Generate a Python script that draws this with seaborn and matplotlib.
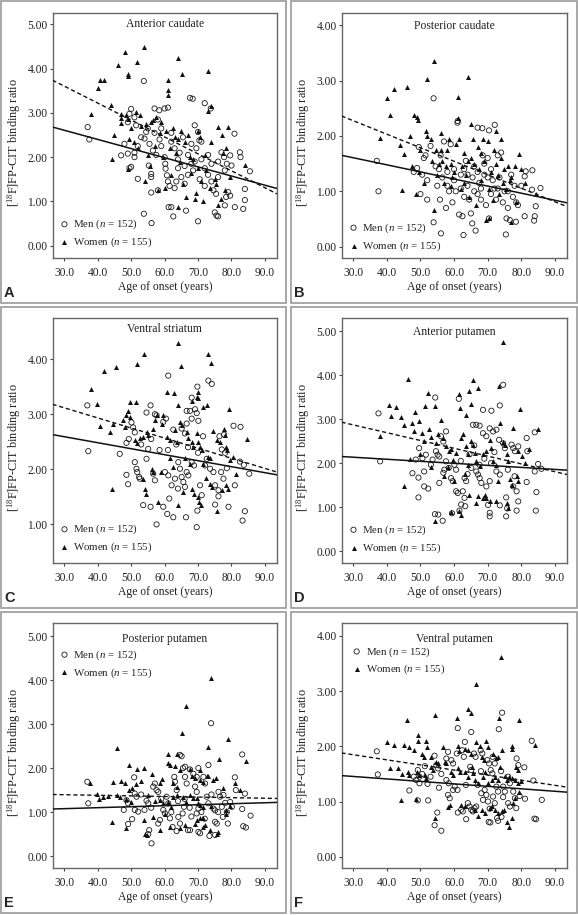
import matplotlib.pyplot as plt
import numpy as np
import pandas as pd
import seaborn as sns
from matplotlib.patches import Rectangle

# (age of onset, binding ratio) pairs
ant_caud_men = [
    (37.0, 2.68), (37.5, 2.40), (47.0, 2.04), (48.0, 2.30), (49.0, 2.79), (49.0, 2.08), (49.5, 1.75),
    (50.0, 3.09), (49.5, 2.98), (50.0, 1.78), (51.0, 2.90), (51.0, 2.10), (51.0, 2.00), (51.5, 2.72),
    (52.0, 1.51), (52.0, 2.25), (53.0, 2.45), (53.8, 3.72), (53.8, 0.72), (54.0, 2.42), (54.5, 2.57),
    (55.0, 2.65), (55.3, 1.81), (55.5, 2.30), (56.0, 1.62), (56.0, 1.55), (56.0, 1.20), (56.1, 0.51),
    (56.5, 2.15), (57.0, 3.10), (57.0, 2.55), (57.5, 2.05), (58.0, 1.25), (58.4, 3.06), (58.5, 2.40),
    (59.0, 2.25), (60.0, 3.10), (60.0, 2.00), (60.2, 1.85), (60.3, 1.74), (60.7, 1.59), (61.0, 3.12),
    (61.0, 1.45), (61.2, 0.87), (61.5, 1.35), (62.0, 0.87), (62.0, 2.35), (62.6, 0.66), (63.0, 1.30),
    (63.5, 1.45), (64.0, 1.75), (64.5, 2.10), (65.0, 1.55), (65.5, 2.45), (66.0, 1.40), (66.4, 0.79),
    (67.0, 2.05), (67.6, 3.34), (68.0, 1.85), (68.4, 3.32), (68.5, 1.70), (69.0, 2.72), (69.5, 2.20),
    (70.0, 2.57), (70.0, 0.55), (70.4, 2.38), (70.5, 1.50), (71.0, 1.95), (72.0, 3.22), (72.0, 1.75),
    (73.0, 1.60), (73.8, 3.10), (74.0, 1.45), (74.6, 1.25), (75.0, 0.75), (75.4, 1.17), (75.5, 0.68),
    (76.0, 0.66), (76.0, 1.55), (77.0, 2.11), (77.8, 2.00), (78.0, 0.91), (78.4, 1.10), (78.6, 1.85),
    (79.0, 1.21), (79.6, 1.13), (79.6, 2.04), (80.0, 1.81), (80.9, 2.53), (81.0, 0.87), (82.5, 2.11),
    (82.7, 2.00), (83.5, 0.83), (84.0, 1.28), (84.0, 1.03), (85.5, 1.68), (58.0, 2.85), (59.0, 2.65),
    (62.0, 2.55), (63.0, 2.20), (64.0, 1.95), (66.0, 1.80), (67.0, 1.60), (68.0, 2.30), (69.0, 1.90),
    (71.0, 2.35), (72.0, 1.35), (73.0, 2.05), (74.0, 1.85), (76.0, 1.90), (78.0, 1.70),
]
ant_caud_women = [
    (38.0, 2.98), (40.0, 3.56), (40.7, 3.74), (42.0, 3.74), (44.0, 3.19), (44.3, 1.96), (45.0, 2.49),
    (46.0, 4.08), (47.0, 2.98), (47.0, 2.89), (47.0, 2.78), (48.1, 4.37), (48.6, 2.95), (49.0, 1.73),
    (49.2, 3.87), (49.2, 3.83), (49.2, 2.87), (49.5, 2.40), (50.0, 2.65), (51.0, 2.35), (51.6, 3.02),
    (51.9, 4.15), (52.0, 2.20), (52.6, 2.95), (53.0, 2.70), (53.8, 4.49), (54.0, 1.47), (54.5, 2.75),
    (55.0, 2.05), (55.5, 1.80), (56.0, 2.80), (56.5, 2.83), (57.0, 2.25), (57.5, 2.90), (58.0, 1.25),
    (58.5, 2.55), (59.0, 2.80), (59.5, 2.00), (60.0, 1.30), (60.5, 2.60), (61.1, 3.74), (61.1, 3.51),
    (61.1, 3.41), (61.5, 2.20), (62.0, 1.60), (62.5, 2.65), (63.0, 2.45), (63.5, 2.10), (64.0, 2.40),
    (64.1, 4.25), (64.1, 0.87), (64.5, 1.90), (65.0, 2.60), (65.1, 3.89), (65.5, 1.40), (66.0, 2.35),
    (66.5, 1.10), (67.0, 2.50), (67.5, 2.00), (68.0, 1.65), (68.5, 1.95), (69.0, 1.05), (69.5, 1.20),
    (70.0, 2.60), (70.0, 1.75), (70.5, 2.45), (71.0, 1.45), (71.5, 1.00), (72.0, 2.05), (72.5, 1.70),
    (73.0, 3.95), (73.0, 3.05), (73.5, 1.30), (74.0, 3.15), (74.0, 2.35), (75.0, 1.50), (75.5, 1.40),
    (76.0, 0.92), (76.1, 2.68), (77.0, 1.05), (77.1, 2.49), (77.5, 2.10), (78.0, 1.25), (78.5, 2.20),
    (79.0, 2.68), (79.6, 1.55), (84.0, 1.83),
]

post_caud_men = [
    (37.0, 1.55), (37.5, 1.00), (48.0, 1.35), (49.0, 1.42), (49.5, 1.80), (50.0, 0.95), (50.5, 1.30),
    (51.0, 1.60), (51.5, 1.65), (52.0, 0.85), (52.0, 1.20), (53.0, 1.82), (53.9, 2.68), (53.9, 0.44),
    (54.5, 1.45), (55.0, 1.10), (55.8, 0.85), (56.0, 1.65), (56.1, 0.24), (56.5, 1.25), (57.0, 1.90),
    (57.6, 0.70), (58.0, 1.35), (58.5, 1.00), (59.0, 1.85), (59.5, 0.80), (60.0, 1.40), (60.5, 1.00),
    (61.0, 2.24), (61.1, 2.27), (61.5, 0.58), (62.0, 1.30), (62.5, 0.55), (62.8, 0.21), (63.0, 0.90),
    (63.5, 1.55), (64.0, 1.10), (64.5, 0.85), (65.0, 0.60), (65.4, 0.42), (65.5, 1.25), (66.0, 1.45),
    (66.4, 0.29), (67.0, 2.15), (67.0, 0.95), (67.5, 1.15), (68.0, 0.85), (68.4, 2.14), (68.5, 1.65),
    (69.0, 1.30), (69.5, 0.75), (70.0, 1.60), (70.4, 2.10), (70.4, 0.51), (71.0, 0.95), (71.5, 1.20),
    (72.1, 2.20), (72.5, 0.85), (73.0, 1.65), (73.0, 1.05), (74.0, 1.70), (74.5, 0.80), (75.0, 1.00),
    (75.4, 0.22), (75.6, 0.51), (76.0, 0.70), (76.6, 0.48), (77.0, 1.30), (77.5, 0.90), (78.4, 0.45),
    (78.5, 0.80), (79.0, 0.75), (80.0, 1.10), (81.0, 0.55), (81.0, 1.27), (81.3, 1.36), (83.2, 1.03),
    (83.3, 1.38), (83.8, 0.47), (84.0, 0.55), (84.3, 0.73), (85.7, 1.06), (55.5, 1.40), (58.0, 1.10),
    (60.0, 1.20), (62.0, 1.05), (63.0, 1.40), (64.0, 1.30), (66.0, 1.00), (67.0, 1.35), (68.0, 1.05),
    (69.0, 1.50), (70.0, 1.25), (71.0, 1.40), (72.0, 1.05), (73.5, 1.25), (76.0, 1.00), (78.0, 1.10),
]
post_caud_women = [
    (38.0, 1.97), (40.1, 2.68), (40.9, 2.38), (42.1, 2.84), (43.9, 1.84), (44.5, 1.03), (45.0, 1.67),
    (46.1, 2.88), (47.0, 2.00), (47.5, 1.45), (48.1, 2.38), (48.6, 0.95), (49.1, 2.35), (49.4, 2.29),
    (49.5, 1.35), (50.0, 1.75), (51.0, 1.15), (51.6, 2.09), (51.9, 3.03), (52.0, 2.00), (53.0, 1.94),
    (53.5, 1.55), (53.9, 3.36), (53.9, 0.67), (54.5, 1.75), (55.0, 1.30), (55.5, 1.50), (56.1, 2.06),
    (56.5, 1.55), (57.0, 1.15), (57.5, 1.45), (58.0, 1.75), (58.5, 1.95), (59.0, 1.50), (59.5, 1.25),
    (60.0, 1.35), (60.5, 1.85), (61.1, 2.71), (61.1, 2.32), (61.5, 1.95), (62.0, 1.05), (62.5, 1.45),
    (63.0, 1.70), (63.5, 1.30), (64.0, 3.06), (64.0, 1.55), (64.5, 0.90), (65.1, 2.21), (65.5, 1.95),
    (66.0, 1.50), (66.5, 0.75), (67.0, 1.80), (67.5, 1.40), (68.0, 1.20), (68.5, 1.95), (69.0, 1.55),
    (69.6, 0.48), (70.0, 1.90), (70.4, 0.51), (71.0, 1.35), (71.5, 0.85), (72.0, 1.75), (72.6, 2.09),
    (73.0, 1.30), (73.5, 0.95), (74.0, 1.60), (74.5, 1.15), (75.0, 1.40), (75.5, 1.05), (76.0, 1.45),
    (77.0, 0.45), (77.0, 1.25), (78.0, 1.45), (78.5, 0.80), (79.4, 1.67), (80.0, 1.40), (81.0, 1.15),
    (84.3, 0.95), (56.0, 1.75), (59.0, 1.10), (63.0, 1.15), (65.0, 1.60), (68.0, 1.70), (70.5, 1.05),
    (72.5, 1.50), (74.0, 1.95), (76.5, 1.20),
]

vent_stri_men = [
    (36.9, 3.16), (37.2, 2.33), (61.1, 3.70), (69.8, 3.50), (73.1, 3.61), (74.1, 3.55), (55.8, 3.16),
    (54.6, 3.03), (57.1, 3.00), (57.6, 2.98), (59.6, 2.86), (60.4, 2.92), (68.1, 3.30), (69.1, 3.09),
    (69.6, 3.02), (67.6, 3.06), (66.6, 3.06), (70.1, 2.88), (66.6, 2.83), (68.1, 2.92), (62.6, 2.72),
    (65.1, 2.74), (66.1, 2.65), (46.6, 2.28), (48.6, 2.48), (49.3, 2.55), (50.1, 2.85), (50.6, 2.76),
    (51.1, 2.67), (48.6, 1.90), (49.1, 1.73), (51.1, 2.13), (51.6, 2.01), (51.8, 1.95), (52.4, 1.86),
    (52.6, 1.83), (54.6, 2.19), (55.1, 2.37), (56.6, 1.92), (57.1, 1.80), (53.6, 1.35), (55.8, 1.32),
    (57.6, 1.00), (59.6, 1.32), (60.8, 1.19), (62.6, 1.13), (61.4, 1.47), (60.1, 1.95), (61.1, 1.89),
    (62.1, 1.71), (63.1, 1.83), (64.1, 2.13), (64.6, 2.01), (65.1, 1.86), (65.6, 1.77), (66.1, 1.68),
    (66.6, 1.95), (67.1, 1.89), (68.1, 2.13), (68.8, 2.07), (66.4, 1.13), (69.6, 0.95), (69.8, 1.25),
    (70.6, 1.71), (71.1, 1.53), (72.1, 2.07), (72.6, 2.19), (73.6, 2.01), (74.6, 1.95), (75.1, 1.71),
    (76.1, 1.62), (75.1, 1.36), (76.1, 1.51), (77.1, 2.36), (78.1, 2.30), (76.4, 2.60), (77.8, 2.63),
    (76.9, 1.95), (77.6, 1.83), (78.6, 2.02), (79.1, 1.32), (80.6, 2.79), (81.0, 1.71), (82.7, 2.77),
    (82.5, 2.14), (83.7, 2.08), (84.0, 1.24), (83.3, 1.07), (85.3, 1.92), (53.0, 2.45), (56.0, 2.55),
    (58.5, 2.35), (61.0, 2.35), (63.5, 2.45), (64.0, 1.65), (67.0, 2.40), (70.0, 2.30), (71.5, 2.60),
]
vent_stri_women = [
    (64.1, 4.30), (53.9, 4.09), (73.1, 4.09), (73.9, 3.92), (45.6, 3.86), (51.9, 3.91), (64.8, 3.88),
    (42.0, 3.78), (37.9, 3.45), (39.7, 3.19), (49.8, 3.22), (51.6, 3.22), (49.1, 3.05), (60.6, 3.40),
    (62.8, 3.38), (64.1, 3.16), (70.1, 3.40), (69.6, 3.32), (70.1, 3.29), (68.1, 3.24), (71.6, 3.13),
    (72.6, 3.16), (79.2, 3.10), (40.7, 2.78), (43.7, 2.68), (44.7, 2.83), (44.2, 1.64), (47.6, 2.89),
    (48.1, 2.77), (48.6, 2.99), (49.6, 2.95), (51.1, 2.53), (51.9, 2.47), (52.6, 2.56), (53.6, 2.59),
    (54.6, 2.68), (55.1, 2.62), (56.6, 2.74), (57.1, 2.89), (57.6, 2.99), (59.1, 2.83), (59.6, 2.98),
    (60.6, 2.59), (61.6, 2.53), (63.1, 2.71), (63.6, 2.50), (64.6, 2.86), (65.1, 2.80), (66.6, 2.68),
    (67.1, 2.56), (68.1, 2.50), (68.6, 2.41), (69.6, 2.65), (70.1, 2.50), (70.6, 2.41), (71.1, 2.35),
    (73.1, 2.23), (73.6, 2.20), (74.6, 2.70), (75.6, 2.53), (76.6, 2.50), (77.8, 2.74), (78.1, 2.62),
    (78.3, 2.41), (78.6, 2.35), (79.6, 2.17), (80.5, 2.23), (84.5, 2.55), (81.3, 1.92), (53.6, 1.82),
    (54.1, 1.64), (54.3, 1.55), (56.1, 2.01), (56.6, 1.95), (58.1, 1.41), (64.1, 1.35), (65.6, 1.59),
    (68.1, 1.65), (68.8, 1.56), (69.9, 1.50), (70.4, 1.41), (70.9, 1.35), (73.6, 1.74), (74.1, 1.68),
    (75.6, 1.25), (78.3, 1.71), (79.0, 1.65), (77.1, 1.62), (59.0, 1.95), (61.5, 2.20), (62.5, 2.05),
    (66.0, 2.20), (67.5, 2.10), (71.5, 2.10), (72.5, 1.85),
]

ant_put_men = [
    (37.5, 3.13), (38.0, 2.04), (54.4, 3.49), (61.4, 3.46), (74.6, 3.78), (73.6, 3.31), (68.6, 3.21),
    (71.1, 3.19), (65.6, 2.87), (66.6, 2.87), (67.6, 2.85), (68.6, 2.68), (69.6, 2.61), (70.6, 2.79),
    (71.6, 2.72), (72.6, 2.76), (73.4, 2.53), (74.6, 2.45), (75.1, 2.34), (77.1, 2.42), (77.6, 2.34),
    (78.1, 2.27), (79.1, 2.38), (81.6, 2.57), (81.8, 2.27), (84.0, 2.70), (85.0, 1.98), (86.0, 1.87),
    (84.0, 1.81), (81.6, 1.57), (84.5, 1.34), (84.3, 0.92), (78.6, 1.36), (77.6, 1.47), (79.1, 1.13),
    (78.6, 0.92), (75.5, 1.22), (75.8, 0.97), (75.5, 0.79), (73.6, 1.04), (70.6, 0.87), (70.6, 0.79),
    (70.1, 1.05), (72.6, 1.81), (73.6, 1.74), (69.6, 1.47), (70.6, 1.59), (67.6, 1.66), (68.1, 1.55),
    (66.6, 1.81), (67.1, 1.74), (64.6, 2.20), (65.1, 1.89), (63.1, 1.66), (63.6, 1.59), (62.6, 1.36),
    (63.1, 1.21), (62.1, 1.06), (63.3, 1.02), (61.6, 0.92), (59.4, 0.86), (56.6, 0.69), (55.3, 0.83),
    (54.3, 0.84), (55.6, 1.55), (56.8, 1.78), (57.6, 2.04), (58.4, 1.89), (59.1, 1.66), (59.6, 1.59),
    (60.6, 1.36), (61.1, 1.32), (60.1, 1.96), (60.6, 1.85), (57.6, 2.72), (56.1, 2.61), (56.8, 2.49),
    (54.6, 2.27), (55.1, 2.19), (55.6, 2.15), (53.6, 2.08), (53.1, 1.96), (51.6, 2.19), (50.6, 2.11),
    (49.6, 2.34), (48.6, 2.08), (47.6, 1.77), (49.4, 1.67), (51.1, 1.47), (52.3, 1.42), (49.4, 1.22),
    (51.1, 1.81), (57.1, 1.85), (67.6, 1.96), (62.0, 2.05), (64.0, 1.75), (66.0, 2.40), (69.0, 2.10),
    (71.0, 2.00), (72.0, 2.25), (76.0, 1.85), (78.0, 1.70),
]
ant_put_women = [
    (74.6, 4.76), (46.4, 3.91), (65.6, 3.88), (67.1, 3.71), (73.4, 3.75), (52.3, 3.59), (61.4, 3.56),
    (64.4, 3.64), (40.5, 3.32), (42.7, 3.27), (41.2, 3.07), (44.2, 3.04), (45.2, 2.86), (48.4, 3.16),
    (51.4, 3.29), (54.4, 3.29), (56.0, 2.98), (65.1, 3.35), (61.8, 3.25), (63.6, 3.10), (79.5, 3.22),
    (37.9, 2.62), (45.0, 1.47), (54.4, 0.68), (47.6, 2.91), (48.1, 2.72), (49.6, 2.95), (50.6, 2.69),
    (51.1, 2.50), (52.6, 2.78), (53.1, 2.59), (54.6, 2.46), (55.1, 2.65), (56.6, 2.57), (57.6, 2.38),
    (58.4, 2.27), (59.1, 2.31), (59.6, 2.08), (60.6, 2.23), (62.1, 2.57), (62.6, 2.65), (63.6, 2.38),
    (64.1, 2.20), (65.1, 2.50), (65.6, 2.42), (66.1, 2.23), (66.6, 2.04), (67.6, 1.93), (68.6, 2.20),
    (69.6, 2.27), (70.6, 2.53), (71.1, 2.34), (71.6, 2.04), (72.6, 1.96), (73.6, 2.91), (74.6, 2.49),
    (75.1, 2.42), (75.6, 2.20), (76.1, 2.04), (77.6, 2.80), (79.1, 2.27), (80.1, 2.15), (81.1, 2.00),
    (82.3, 2.33), (85.0, 2.77), (76.6, 1.63), (77.1, 1.51), (75.6, 1.09), (76.1, 0.98), (78.6, 1.70),
    (79.1, 1.59), (69.6, 1.21), (70.6, 1.13), (68.6, 1.21), (69.1, 1.28), (66.6, 1.10), (67.1, 1.25),
    (64.3, 1.28), (62.1, 0.83), (59.1, 0.90), (61.6, 0.91), (72.6, 1.13), (57.1, 1.70), (58.1, 1.90),
    (63.1, 1.75), (60.1, 1.60), (47.0, 2.10), (50.0, 2.20), (53.0, 1.90), (64.0, 1.95), (73.0, 1.60),
]

post_put_men = [
    (36.9, 1.69), (37.2, 1.20), (73.9, 3.02), (65.1, 2.27), (73.1, 2.07), (70.1, 2.00), (66.1, 2.03),
    (67.6, 1.97), (83.2, 2.31), (81.0, 1.79), (81.3, 1.50), (84.0, 1.42), (83.2, 1.07), (83.5, 0.68),
    (84.3, 0.65), (85.7, 0.92), (50.9, 1.79), (51.1, 1.42), (51.6, 1.35), (48.6, 1.27), (49.1, 1.20),
    (47.8, 1.05), (49.1, 0.73), (50.3, 0.84), (51.1, 1.05), (52.1, 1.01), (54.6, 1.26), (55.1, 1.20),
    (55.4, 0.59), (55.1, 0.50), (56.1, 0.29), (56.6, 1.58), (57.1, 1.65), (57.6, 1.50), (58.1, 1.46),
    (58.1, 0.74), (58.6, 0.82), (59.6, 1.05), (60.1, 0.97), (60.6, 1.35), (61.1, 1.20), (61.6, 0.86),
    (62.4, 0.66), (62.9, 1.80), (63.1, 1.69), (63.6, 1.50), (64.1, 0.89), (64.6, 0.74), (63.6, 0.57),
    (65.4, 0.97), (65.8, 1.12), (66.1, 1.80), (66.6, 1.65), (67.0, 0.59), (67.6, 0.59), (68.6, 1.87),
    (69.6, 1.80), (69.1, 1.58), (69.6, 1.46), (69.6, 0.97), (70.1, 1.08), (70.1, 0.55), (70.6, 0.52),
    (71.6, 1.80), (72.1, 1.65), (72.6, 1.35), (73.1, 1.20), (73.4, 0.46), (74.6, 1.08), (75.1, 1.04),
    (75.1, 0.78), (75.6, 0.74), (75.1, 0.48), (76.1, 1.46), (76.6, 1.35), (77.1, 1.12), (77.4, 0.89),
    (77.6, 1.39), (78.1, 1.21), (78.6, 1.00), (78.9, 0.74), (79.6, 1.23), (80.1, 1.12), (53.0, 1.40),
    (54.0, 1.05), (56.0, 1.10), (59.0, 1.30), (62.0, 1.00), (64.0, 1.25), (66.0, 1.30), (67.5, 1.10),
    (68.0, 0.90), (71.0, 1.00), (72.0, 0.85), (74.0, 1.40), (76.0, 1.00), (64.6, 2.30), (65.5, 2.00),
]
post_put_women = [
    (73.9, 4.05), (66.4, 3.42), (65.1, 2.79), (79.1, 2.65), (73.1, 2.48), (45.9, 2.45), (61.1, 2.32),
    (63.6, 2.32), (76.3, 2.20), (84.3, 2.17), (49.3, 2.06), (51.9, 1.99), (53.9, 2.00), (56.1, 1.86),
    (63.1, 2.04), (64.6, 1.95), (61.1, 2.11), (61.6, 2.07), (67.6, 1.98), (68.1, 1.83), (69.1, 1.78),
    (70.6, 1.95), (70.6, 1.73), (71.6, 1.69), (72.6, 1.83), (73.1, 1.81), (74.6, 1.72), (75.4, 1.78),
    (44.7, 1.69), (47.1, 1.71), (48.1, 1.65), (49.3, 1.50), (50.3, 1.54), (51.6, 1.63), (53.1, 1.70),
    (58.6, 1.65), (59.1, 1.76), (62.6, 1.65), (63.8, 1.57), (37.7, 1.65), (39.7, 1.41), (40.5, 1.29),
    (41.7, 1.35), (43.2, 1.36), (45.7, 1.38), (46.7, 1.35), (48.6, 1.29), (50.1, 1.23), (44.2, 0.78),
    (48.6, 0.65), (53.9, 0.83), (54.6, 0.48), (54.1, 0.50), (56.6, 0.88), (58.6, 0.59), (61.6, 0.67),
    (64.6, 0.63), (66.1, 0.70), (69.1, 0.74), (69.6, 0.82), (70.6, 0.86), (71.6, 0.86), (72.1, 0.70),
    (71.6, 0.67), (73.6, 0.59), (76.1, 0.55), (75.6, 0.50), (78.4, 0.95), (78.4, 1.04), (79.6, 1.15),
    (82.5, 1.50), (81.0, 1.65), (58.6, 1.27), (59.6, 1.20), (61.1, 1.23), (61.8, 1.11), (62.6, 1.35),
    (63.6, 1.38), (65.6, 1.35), (66.4, 1.23), (67.6, 1.38), (68.4, 1.31), (69.6, 1.31), (70.1, 1.20),
    (70.6, 1.16), (71.6, 1.12), (55.0, 1.40), (57.0, 1.25), (60.0, 0.95), (74.0, 1.15), (77.5, 1.55),
]

vent_put_men = [
    (37.0, 1.91), (37.3, 1.49), (61.1, 2.33), (65.1, 2.26), (74.3, 2.61), (73.3, 2.31), (83.1, 2.10),
    (83.6, 1.38), (83.9, 0.69), (84.4, 0.68), (86.1, 1.03), (80.9, 1.62), (81.1, 1.05), (78.6, 1.78),
    (79.1, 1.66), (77.6, 1.18), (78.1, 1.06), (78.5, 0.88), (76.1, 0.97), (76.6, 0.91), (74.6, 1.08),
    (74.1, 0.72), (72.8, 0.70), (73.1, 0.65), (70.3, 0.63), (70.8, 0.62), (71.5, 1.81), (72.1, 1.69),
    (67.9, 1.93), (68.4, 1.87), (69.9, 1.75), (70.4, 1.69), (70.9, 1.57), (71.4, 1.51), (65.9, 1.87),
    (66.4, 1.81), (64.8, 1.63), (65.1, 1.57), (63.2, 2.08), (62.4, 1.93), (62.9, 1.81), (60.8, 1.87),
    (57.7, 1.78), (58.2, 1.90), (59.2, 1.75), (59.7, 1.69), (54.2, 1.83), (54.7, 1.66), (55.2, 1.60),
    (51.3, 1.64), (49.2, 1.57), (49.7, 1.45), (48.0, 1.45), (48.7, 1.39), (46.7, 1.20), (49.2, 1.02),
    (49.7, 1.33), (52.1, 1.32), (52.3, 1.02), (54.2, 0.57), (56.2, 0.47), (55.0, 0.80), (58.2, 1.12),
    (58.7, 1.06), (59.7, 1.21), (60.2, 1.27), (61.1, 0.80), (62.1, 0.85), (62.6, 0.82), (63.6, 0.68),
    (64.1, 0.97), (64.6, 0.91), (65.1, 0.85), (65.6, 0.82), (66.1, 0.88), (66.6, 0.91), (68.1, 1.15),
    (68.6, 1.03), (69.1, 1.21), (69.6, 1.12), (70.1, 1.00), (70.6, 0.87), (71.6, 1.09), (72.1, 0.97),
    (72.6, 1.27), (73.1, 1.18), (74.6, 1.27), (75.1, 1.18), (76.1, 1.45), (76.6, 1.33), (61.0, 1.21),
    (57.7, 1.39), (58.4, 1.33), (56.2, 1.50), (55.5, 1.25), (50.5, 1.50), (53.0, 1.45), (63.5, 1.30),
    (67.0, 1.30), (68.0, 1.55), (74.0, 1.55), (79.5, 1.10),
]
vent_put_women = [
    (74.1, 3.62), (66.6, 3.13), (64.2, 2.68), (65.1, 2.61), (61.0, 2.51), (54.2, 2.56), (45.9, 2.48),
    (73.3, 2.52), (79.3, 2.48), (77.3, 1.96), (40.0, 2.08), (42.0, 2.02), (45.0, 2.02), (49.2, 2.21),
    (49.2, 2.10), (46.7, 1.99), (48.2, 1.93), (51.7, 2.10), (52.0, 1.99), (50.6, 1.87), (51.1, 1.81),
    (53.1, 1.81), (56.7, 1.99), (61.3, 2.01), (61.6, 1.92), (63.2, 1.96), (64.2, 1.93), (65.0, 1.87),
    (66.6, 2.08), (67.6, 2.00), (69.4, 2.09), (70.1, 1.99), (68.3, 1.81), (68.8, 1.75), (71.6, 1.87),
    (72.6, 1.78), (73.1, 1.81), (73.6, 1.63), (74.3, 1.94), (77.3, 2.00), (78.3, 1.63), (79.0, 1.57),
    (80.0, 1.37), (84.0, 2.02), (40.8, 1.60), (43.3, 1.60), (44.6, 1.50), (46.2, 1.53), (46.7, 1.48),
    (49.0, 1.53), (49.7, 1.48), (51.2, 1.48), (51.7, 1.42), (53.2, 1.63), (53.7, 1.57), (54.7, 1.72),
    (55.2, 1.69), (57.2, 1.72), (57.7, 1.69), (59.2, 1.54), (59.7, 1.48), (61.2, 1.60), (61.7, 1.54),
    (63.2, 1.54), (64.2, 1.45), (65.2, 1.63), (65.7, 1.51), (66.2, 1.39), (67.2, 1.33), (68.7, 1.45),
    (69.2, 1.54), (70.2, 1.33), (71.2, 1.39), (72.2, 1.45), (73.2, 1.39), (75.2, 1.46), (75.7, 1.39),
    (76.2, 1.45), (77.2, 1.42), (78.2, 1.39), (79.0, 1.33), (44.2, 1.02), (48.7, 1.05), (54.2, 0.70),
    (58.2, 0.90), (58.9, 0.93), (62.2, 0.94), (63.2, 0.91), (66.2, 0.85), (67.2, 0.73), (68.2, 0.85),
    (69.2, 0.79), (70.7, 0.88), (71.2, 0.91), (72.2, 0.85), (73.2, 0.79), (74.2, 0.82), (75.0, 0.85),
    (75.6, 0.63), (76.3, 0.53), (77.1, 0.71), (77.6, 0.97), (78.1, 1.06), (79.4, 1.17),
]

titles = ["Anterior caudate", "Posterior caudate", "Ventral striatum",
          "Anterior putamen", "Posterior putamen", "Ventral putamen"]
letters = ["A", "B", "C", "D", "E", "F"]
men_label = "Men ($n$ = 152)"
women_label = "Women ($n$ = 155)"

# fitted lines: ratio = intercept + slope * age
men_intercept = [3.229, 1.99, 2.918, 2.272, 1.011, 1.588]
men_slope = [-0.0207, -0.0128, -0.01088, -0.00462, 0.00224, -0.00447]
women_intercept = [4.755, 3.007, 3.666, 3.40, 1.4355, 2.125]
women_slope = [-0.0383, -0.0244, -0.01833, -0.01773, -0.00134, -0.00924]

x_ticks = [30, 40, 50, 60, 70, 80, 90]
y_ticks = [[0, 1, 2, 3, 4, 5], [0, 1, 2, 3, 4], [1, 2, 3, 4],
           [0, 1, 2, 3, 4, 5], [0, 1, 2, 3, 4, 5], [0, 1, 2, 3, 4]]

men_data = [ant_caud_men, post_caud_men, vent_stri_men, ant_put_men, post_put_men, vent_put_men]
women_data = [ant_caud_women, post_caud_women, vent_stri_women, ant_put_women, post_put_women, vent_put_women]

sns.set_style("ticks")
plt.rcParams["font.family"] = ["Liberation Serif", "DejaVu Serif"]
plt.rcParams["mathtext.fontset"] = "custom"
plt.rcParams["mathtext.rm"] = "Liberation Serif"
plt.rcParams["mathtext.it"] = "Liberation Serif:italic"

W, H = 578, 915
fig = plt.figure(figsize=(W / 100, H / 100), dpi=100)

# layout in pixels
frame_x = [(1, 286), (291, 577)]
frame_y = [(1, 303), (307, 608), (612, 913)]
axes_x = [(52.5, 277), (341.5, 567)]
axes_y = [(12.5, 258), (318.3, 563), (623.3, 868)]
ylims = [(-0.28, 5.27), (-0.205, 4.23), (0.30, 4.74), (-0.27, 5.29), (-0.27, 5.29), (-0.205, 4.23)]
xlim = (26.5, 93.6)
title_y = [0.952, 0.947, 0.955, 0.945, 0.936, 0.936]
legend_loc = [("lower left", 0.034, 0.036), ("lower left", 0.034, 0.022),
              ("lower left", 0.034, 0.036), ("lower left", 0.034, 0.034),
              ("upper left", 0.034, 0.898), ("upper left", 0.048, 0.911)]

for i in range(6):
    row, col = i // 2, i % 2
    fx0, fx1 = frame_x[col]
    fy0, fy1 = frame_y[row]
    fig.add_artist(Rectangle((fx0 / W, 1 - fy1 / H), (fx1 - fx0) / W, (fy1 - fy0) / H,
                             transform=fig.transFigure, fill=False, ec="#9a9a9a", lw=1.2))
    fig.text((fx0 + 3) / W, 1 - (fy1 - 6) / H, letters[i], fontfamily="Liberation Sans",
             fontweight="bold", fontsize=10.5, va="baseline", ha="left")

    ax0, ax1 = axes_x[col]
    ay0, ay1 = axes_y[row]
    ax = fig.add_axes([ax0 / W, 1 - ay1 / H, (ax1 - ax0) / W, (ay1 - ay0) / H])

    men = pd.DataFrame(men_data[i], columns=["age", "ratio"])
    women = pd.DataFrame(women_data[i], columns=["age", "ratio"])

    sns.scatterplot(data=men, x="age", y="ratio", ax=ax, marker="o", s=14,
                    color="black", edgecolor="#1a1a1a", linewidth=0.6, zorder=3)
    men_pts = ax.collections[-1]
    men_pts.set_facecolor("none")
    sns.scatterplot(data=women, x="age", y="ratio", ax=ax, marker="^", s=13,
                    color="#111111", linewidth=0, zorder=3)
    women_pts = ax.collections[-1]

    xs = np.array(xlim)
    sns.lineplot(x=xs, y=men_intercept[i] + men_slope[i] * xs, ax=ax,
                 color="#111111", lw=1.1, zorder=4)
    sns.lineplot(x=xs, y=women_intercept[i] + women_slope[i] * xs, ax=ax,
                 color="#111111", lw=1.0, ls=(0, (3, 2)), zorder=4)

    ax.set_xlim(*xlim)
    ax.set_ylim(*ylims[i])
    ax.set_xticks(x_ticks)
    ax.set_xticklabels([f"{v:.1f}" for v in x_ticks])
    ax.set_yticks(y_ticks[i])
    ax.set_yticklabels([f"{v:.2f}" for v in y_ticks[i]])
    ax.tick_params(direction="out", length=2.5, width=0.8, color="#444444",
                   labelsize=8.3, labelcolor="#222222")
    ax.tick_params(axis="y", pad=1)
    ax.tick_params(axis="x", pad=4)
    for sp in ax.spines.values():
        sp.set_color("#666666")
        sp.set_linewidth(1.0)

    ax.set_xlabel("Age of onset (years)", fontsize=8.4, color="#222222")
    ax.set_ylabel(r"[$^{18}$F]FP-CIT binding ratio", fontsize=8.8, color="#222222")
    ax.xaxis.set_label_coords(0.5, -0.094)
    ax.yaxis.set_label_coords(-0.13, 0.47)

    ax.text(0.5, title_y[i], titles[i], transform=ax.transAxes, ha="center", va="center",
            fontsize=8.4, color="#222222")

    loc, lx, ly = legend_loc[i]
    ax.legend(handles=[men_pts, women_pts], labels=[men_label, women_label], loc=loc,
              bbox_to_anchor=(lx, ly), frameon=False, fontsize=7.8, borderpad=0,
              borderaxespad=0, handlelength=0.8, handletextpad=0.42, labelspacing=0.4,
              labelcolor="#222222")

fig.savefig("out.png", dpi=100)
